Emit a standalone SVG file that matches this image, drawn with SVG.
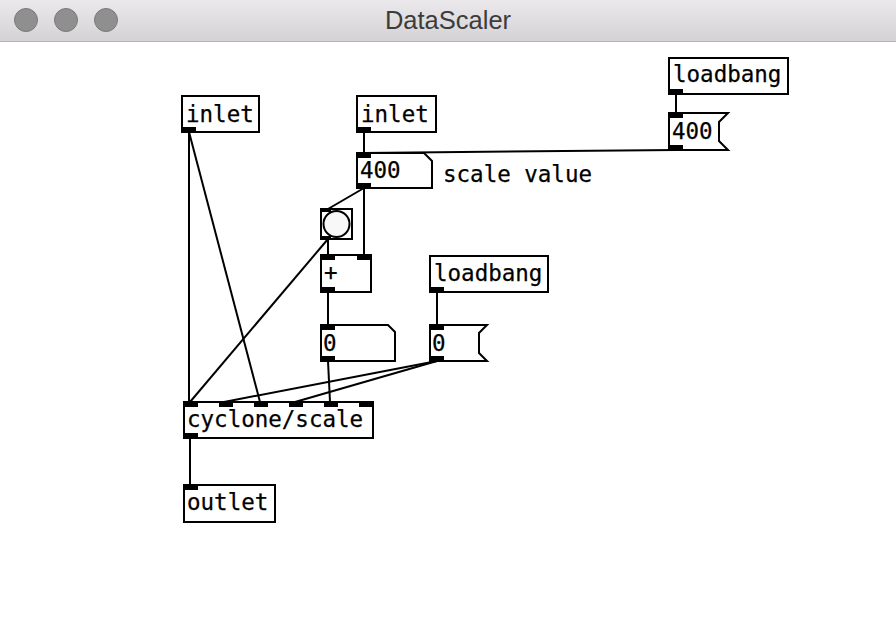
<svg xmlns="http://www.w3.org/2000/svg" width="896" height="640" viewBox="0 0 896 640">
<defs>
<linearGradient id="tb" x1="0" y1="0" x2="0" y2="1">
<stop offset="0" stop-color="#ebe9eb"/>
<stop offset="1" stop-color="#d4d2d4"/>
</linearGradient>
<style>
.box{fill:#fff;stroke:#000;stroke-width:2}
.nib{fill:#000}
.t{font-family:"DejaVu Sans Mono","Liberation Mono",monospace;font-size:22.5px;fill:#000;stroke:#000;stroke-width:0.25}
.c{stroke:#000;stroke-width:2;fill:none}
.btn{fill:#8f8f8f;stroke:#7a7a7a;stroke-width:1}
</style>
</defs>
<rect x="0" y="0" width="896" height="640" fill="#fff"/>
<g id="titlebar">
<rect x="0" y="0" width="896" height="41" fill="url(#tb)"/>
<line x1="0" y1="41.5" x2="896" y2="41.5" stroke="#b4b4b4" stroke-width="1"/>
<circle class="btn" cx="26" cy="20" r="11.5"/>
<circle class="btn" cx="66" cy="20" r="11.5"/>
<circle class="btn" cx="106" cy="20" r="11.5"/>
<text x="448" y="29" text-anchor="middle" font-family="Liberation Sans, Arial, sans-serif" font-size="25.5" fill="#3c3c3c">DataScaler</text>
</g>
<g id="connectors">
<line class="c" x1="189" y1="132" x2="189" y2="402"/>
<line class="c" x1="189" y1="132" x2="260" y2="402"/>
<line class="c" x1="364" y1="132" x2="364" y2="153"/>
<line class="c" x1="676" y1="94" x2="676" y2="113"/>
<line class="c" x1="676" y1="150" x2="364" y2="153"/>
<line class="c" x1="364" y1="188" x2="328" y2="209"/>
<line class="c" x1="364" y1="188" x2="364" y2="255"/>
<line class="c" x1="328" y1="239" x2="328" y2="255"/>
<line class="c" x1="328" y1="239" x2="190" y2="402"/>
<line class="c" x1="328" y1="292" x2="328" y2="325"/>
<line class="c" x1="328" y1="361" x2="330" y2="402"/>
<line class="c" x1="437" y1="292" x2="437" y2="325"/>
<line class="c" x1="437" y1="361" x2="224" y2="402"/>
<line class="c" x1="437" y1="361" x2="295" y2="402"/>
<line class="c" x1="190" y1="438" x2="190" y2="485"/>
</g>
<g id="inlet1">
<rect class="box" x="182" y="96" width="77" height="36"/>
<rect class="nib" x="182" y="127" width="14" height="5"/>
<text class="t" x="186" y="122">inlet</text>
</g>
<g id="inlet2">
<rect class="box" x="357" y="96" width="79" height="36"/>
<rect class="nib" x="357" y="127" width="14" height="5"/>
<text class="t" x="361" y="122">inlet</text>
</g>
<g id="loadbang1">
<rect class="box" x="669" y="58" width="119" height="36"/>
<rect class="nib" x="669" y="89" width="14" height="5"/>
<text class="t" x="673" y="82">loadbang</text>
</g>
<g id="msg400">
<path class="box" d="M669,113 H728 L719,122 V141 L728,150 H669 Z"/>
<rect class="nib" x="669" y="113" width="14" height="5"/>
<rect class="nib" x="669" y="145" width="14" height="5"/>
<text class="t" x="672" y="139">400</text>
</g>
<g id="num400">
<path class="box" d="M357,153 H424 L432,161 V188 H357 Z"/>
<rect class="nib" x="357" y="153" width="14" height="5"/>
<rect class="nib" x="357" y="183" width="14" height="5"/>
<text class="t" x="360" y="178">400</text>
</g>
<g id="comment">
<text class="t" x="443" y="182">scale value</text>
</g>
<g id="bang">
<rect class="box" x="321" y="209" width="31" height="30"/>
<circle cx="336.5" cy="224" r="13" fill="#f8f8f8" stroke="#000" stroke-width="2"/>
<rect class="nib" x="321" y="209" width="10" height="3"/>
<rect class="nib" x="321" y="236" width="10" height="3"/>
</g>
<g id="plus">
<rect class="box" x="321" y="255" width="50" height="37"/>
<rect class="nib" x="321" y="255" width="14" height="5"/>
<rect class="nib" x="357" y="255" width="14" height="5"/>
<rect class="nib" x="321" y="287" width="14" height="5"/>
<text class="t" x="324" y="280">+</text>
</g>
<g id="num0">
<path class="box" d="M321,325 H388 L395,332 V361 H321 Z"/>
<rect class="nib" x="321" y="325" width="14" height="5"/>
<rect class="nib" x="321" y="356" width="14" height="5"/>
<text class="t" x="323" y="351">0</text>
</g>
<g id="loadbang2">
<rect class="box" x="430" y="256" width="118" height="36"/>
<rect class="nib" x="430" y="287" width="14" height="5"/>
<text class="t" x="434" y="281">loadbang</text>
</g>
<g id="msg0">
<path class="box" d="M430,325 H487 L479,333 V353 L487,361 H430 Z"/>
<rect class="nib" x="430" y="325" width="14" height="5"/>
<rect class="nib" x="430" y="356" width="14" height="5"/>
<text class="t" x="432" y="351">0</text>
</g>
<g id="scale">
<rect class="box" x="184" y="402" width="189" height="36"/>
<rect class="nib" x="184" y="402" width="14" height="5"/>
<rect class="nib" x="219" y="402" width="14" height="5"/>
<rect class="nib" x="254" y="402" width="14" height="5"/>
<rect class="nib" x="289" y="402" width="14" height="5"/>
<rect class="nib" x="324" y="402" width="14" height="5"/>
<rect class="nib" x="359" y="402" width="14" height="5"/>
<rect class="nib" x="184" y="433" width="14" height="5"/>
<text class="t" x="187" y="427">cyclone/scale</text>
</g>
<g id="outlet">
<rect class="box" x="184" y="485" width="91" height="37"/>
<rect class="nib" x="184" y="485" width="14" height="5"/>
<text class="t" x="187" y="510">outlet</text>
</g>
</svg>
